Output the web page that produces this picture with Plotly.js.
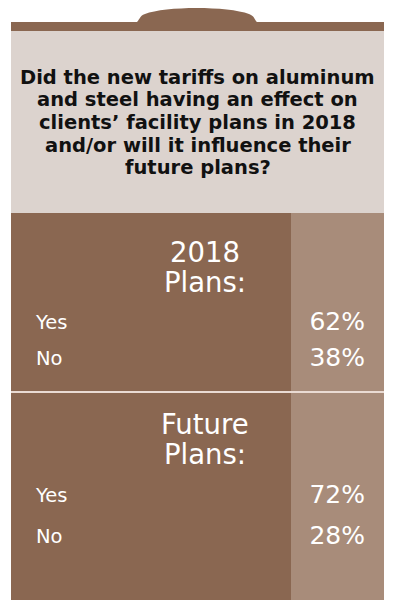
<!DOCTYPE html>
<html><head><meta charset="utf-8">
<script src="https://cdn.plot.ly/plotly-3.0.1.min.js"></script>
<style>html,body{margin:0;padding:0;background:#fff;}#chart{width:400px;height:614px;}</style>
</head><body><div id="chart"></div>
<script>
// ---- data ----
var questionLines = [
  "Did the new tariffs on aluminum",
  "and steel having an effect on",
  "clients\u2019 facility plans in 2018",
  "and/or will it influence their",
  "future plans?"
];
var sectionTitles = [["2018", "Plans:"], ["Future", "Plans:"]];
var answers = ["Yes", "No"];
var plans2018 = [62, 38];
var plansFuture = [72, 28];

// ---- styling / layout constants ----
var DARK = "#8A6751", LIGHTCOL = "#A88C7A", PANEL = "#DCD3CE", SEP = "#EADBD3";
var L = 11, R = 384, SPLIT = 291;
var sections = [
  {top: 213, bottom: 391, headY: 252, headGap: 30, rowY: 324, rowGap: 36, values: plans2018},
  {top: 393, bottom: 600, headY: 423.5, headGap: 30, rowY: 497, rowGap: 41, values: plansFuture}
];

var shapes = [
  {type: "path", path: "M136,23 C140,20 139,16 145,14 C165,6 228,6 249,14 C255,16 254,20 258,23 Z",
   fillcolor: DARK, line: {width: 0}, layer: "below"},
  {type: "rect", x0: L, x1: R, y0: 22, y1: 31, fillcolor: DARK, line: {width: 0}, layer: "below"},
  {type: "rect", x0: L, x1: R, y0: 31, y1: 213, fillcolor: PANEL, line: {width: 0}, layer: "below"},
  {type: "rect", x0: L, x1: R, y0: 391, y1: 393, fillcolor: SEP, line: {width: 0}, layer: "below"}
];
var annotations = [];
questionLines.forEach(function (t, i) {
  annotations.push({x: 197.5, y: 77 + i * 22.7, xref: "x", yref: "y", text: t, showarrow: false,
    xanchor: "center", yanchor: "middle",
    font: {family: "DejaVu Sans", size: 19.5, weight: 700, color: "#111"}});
});
var traces = [];
sections.forEach(function (s, k) {
  shapes.push({type: "rect", x0: L, x1: SPLIT, y0: s.top, y1: s.bottom, fillcolor: DARK, line: {width: 0}, layer: "below"});
  shapes.push({type: "rect", x0: SPLIT, x1: R, y0: s.top, y1: s.bottom, fillcolor: LIGHTCOL, line: {width: 0}, layer: "below"});
  sectionTitles[k].forEach(function (t, j) {
    annotations.push({x: 205, y: s.headY + j * s.headGap, xref: "x", yref: "y", text: t, showarrow: false,
      xanchor: "center", yanchor: "middle",
      font: {family: "DejaVu Sans", size: 27.5, color: "#fff"}});
  });
  var ys = answers.map(function (_, i) { return s.rowY + i * s.rowGap; });
  traces.push({type: "scatter", mode: "text", x: answers.map(function () { return 36; }), y: ys,
    text: answers, textposition: "middle right", hoverinfo: "skip", showlegend: false,
    textfont: {family: "DejaVu Sans", size: 19.5, color: "#fff"}});
  traces.push({type: "scatter", mode: "text", x: answers.map(function () { return 365; }), y: ys,
    text: s.values.map(function (v) { return v + "%"; }), textposition: "middle left", hoverinfo: "skip", showlegend: false,
    textfont: {family: "DejaVu Sans", size: 25, color: "#fff"}});
});

var layout = {
  width: 400, height: 614, margin: {l: 0, r: 0, t: 0, b: 0},
  paper_bgcolor: "#fff", plot_bgcolor: "#fff", showlegend: false,
  xaxis: {range: [0, 400], visible: false, fixedrange: true},
  yaxis: {range: [614, 0], visible: false, fixedrange: true},
  shapes: shapes, annotations: annotations
};
Plotly.newPlot("chart", traces, layout, {displayModeBar: false, staticPlot: true});
</script></body></html>
